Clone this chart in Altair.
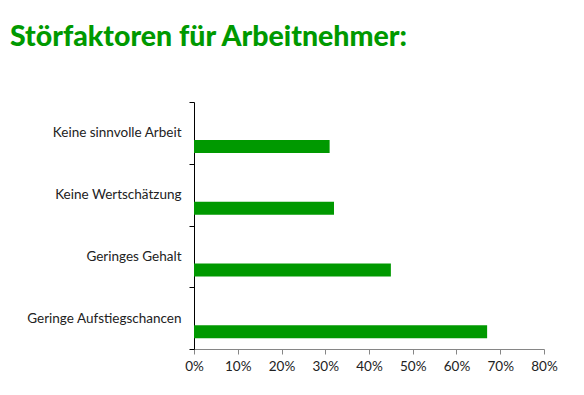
import altair as alt
import pandas as pd

categories = ["Keine sinnvolle Arbeit", "Keine Wertschätzung", "Geringes Gehalt", "Geringe Aufstiegschancen"]
values = [0.31, 0.32, 0.45, 0.67]
x_ticks = [0, 0.1, 0.2, 0.3, 0.4, 0.5, 0.6, 0.7, 0.8]

df = pd.DataFrame({"cat": categories, "val": values})

GREEN = "#009900"

chart = alt.Chart(
    df,
    title=alt.Title(
        "Störfaktoren für Arbeitnehmer:",
        anchor="start",
        frame="group",
        dx=-184,
        offset=44,
        fontSize=28.5,
        font="Lato",
        fontWeight=900,
        color=GREEN,
    ),
).mark_bar(height=13, yOffset=13.5, color=GREEN).encode(
    x=alt.X(
        "val:Q",
        scale=alt.Scale(domain=[0, 0.8], nice=False),
        axis=alt.Axis(
            format="%",
            values=x_ticks,
            title=None,
            grid=False,
            labelFlush=False,
            domainColor="#868686",
            tickColor="#868686",
            tickSize=5,
            labelPadding=5,
            labelFontSize=13.5,
            labelFont="Lato",
            labelColor="#222222",
        ),
    ),
    y=alt.Y(
        "cat:N",
        sort=categories,
        scale=alt.Scale(paddingInner=0, paddingOuter=0),
        axis=alt.Axis(
            title=None,
            tickBand="extent",
            domainColor="#000000",
            tickColor="#000000",
            tickSize=5,
            labelPadding=8,
            labelFontSize=13.5,
            labelFont="Lato",
            labelColor="#222222",
        ),
    ),
).properties(
    width=350,
    height=247,
    padding={"left": 186, "top": 94, "right": 30, "bottom": 30},
    autosize=alt.AutoSizeParams(type="none"),
).configure_view(stroke=None)

chart.save("out.html", embed_options={"renderer": "svg", "actions": False})
